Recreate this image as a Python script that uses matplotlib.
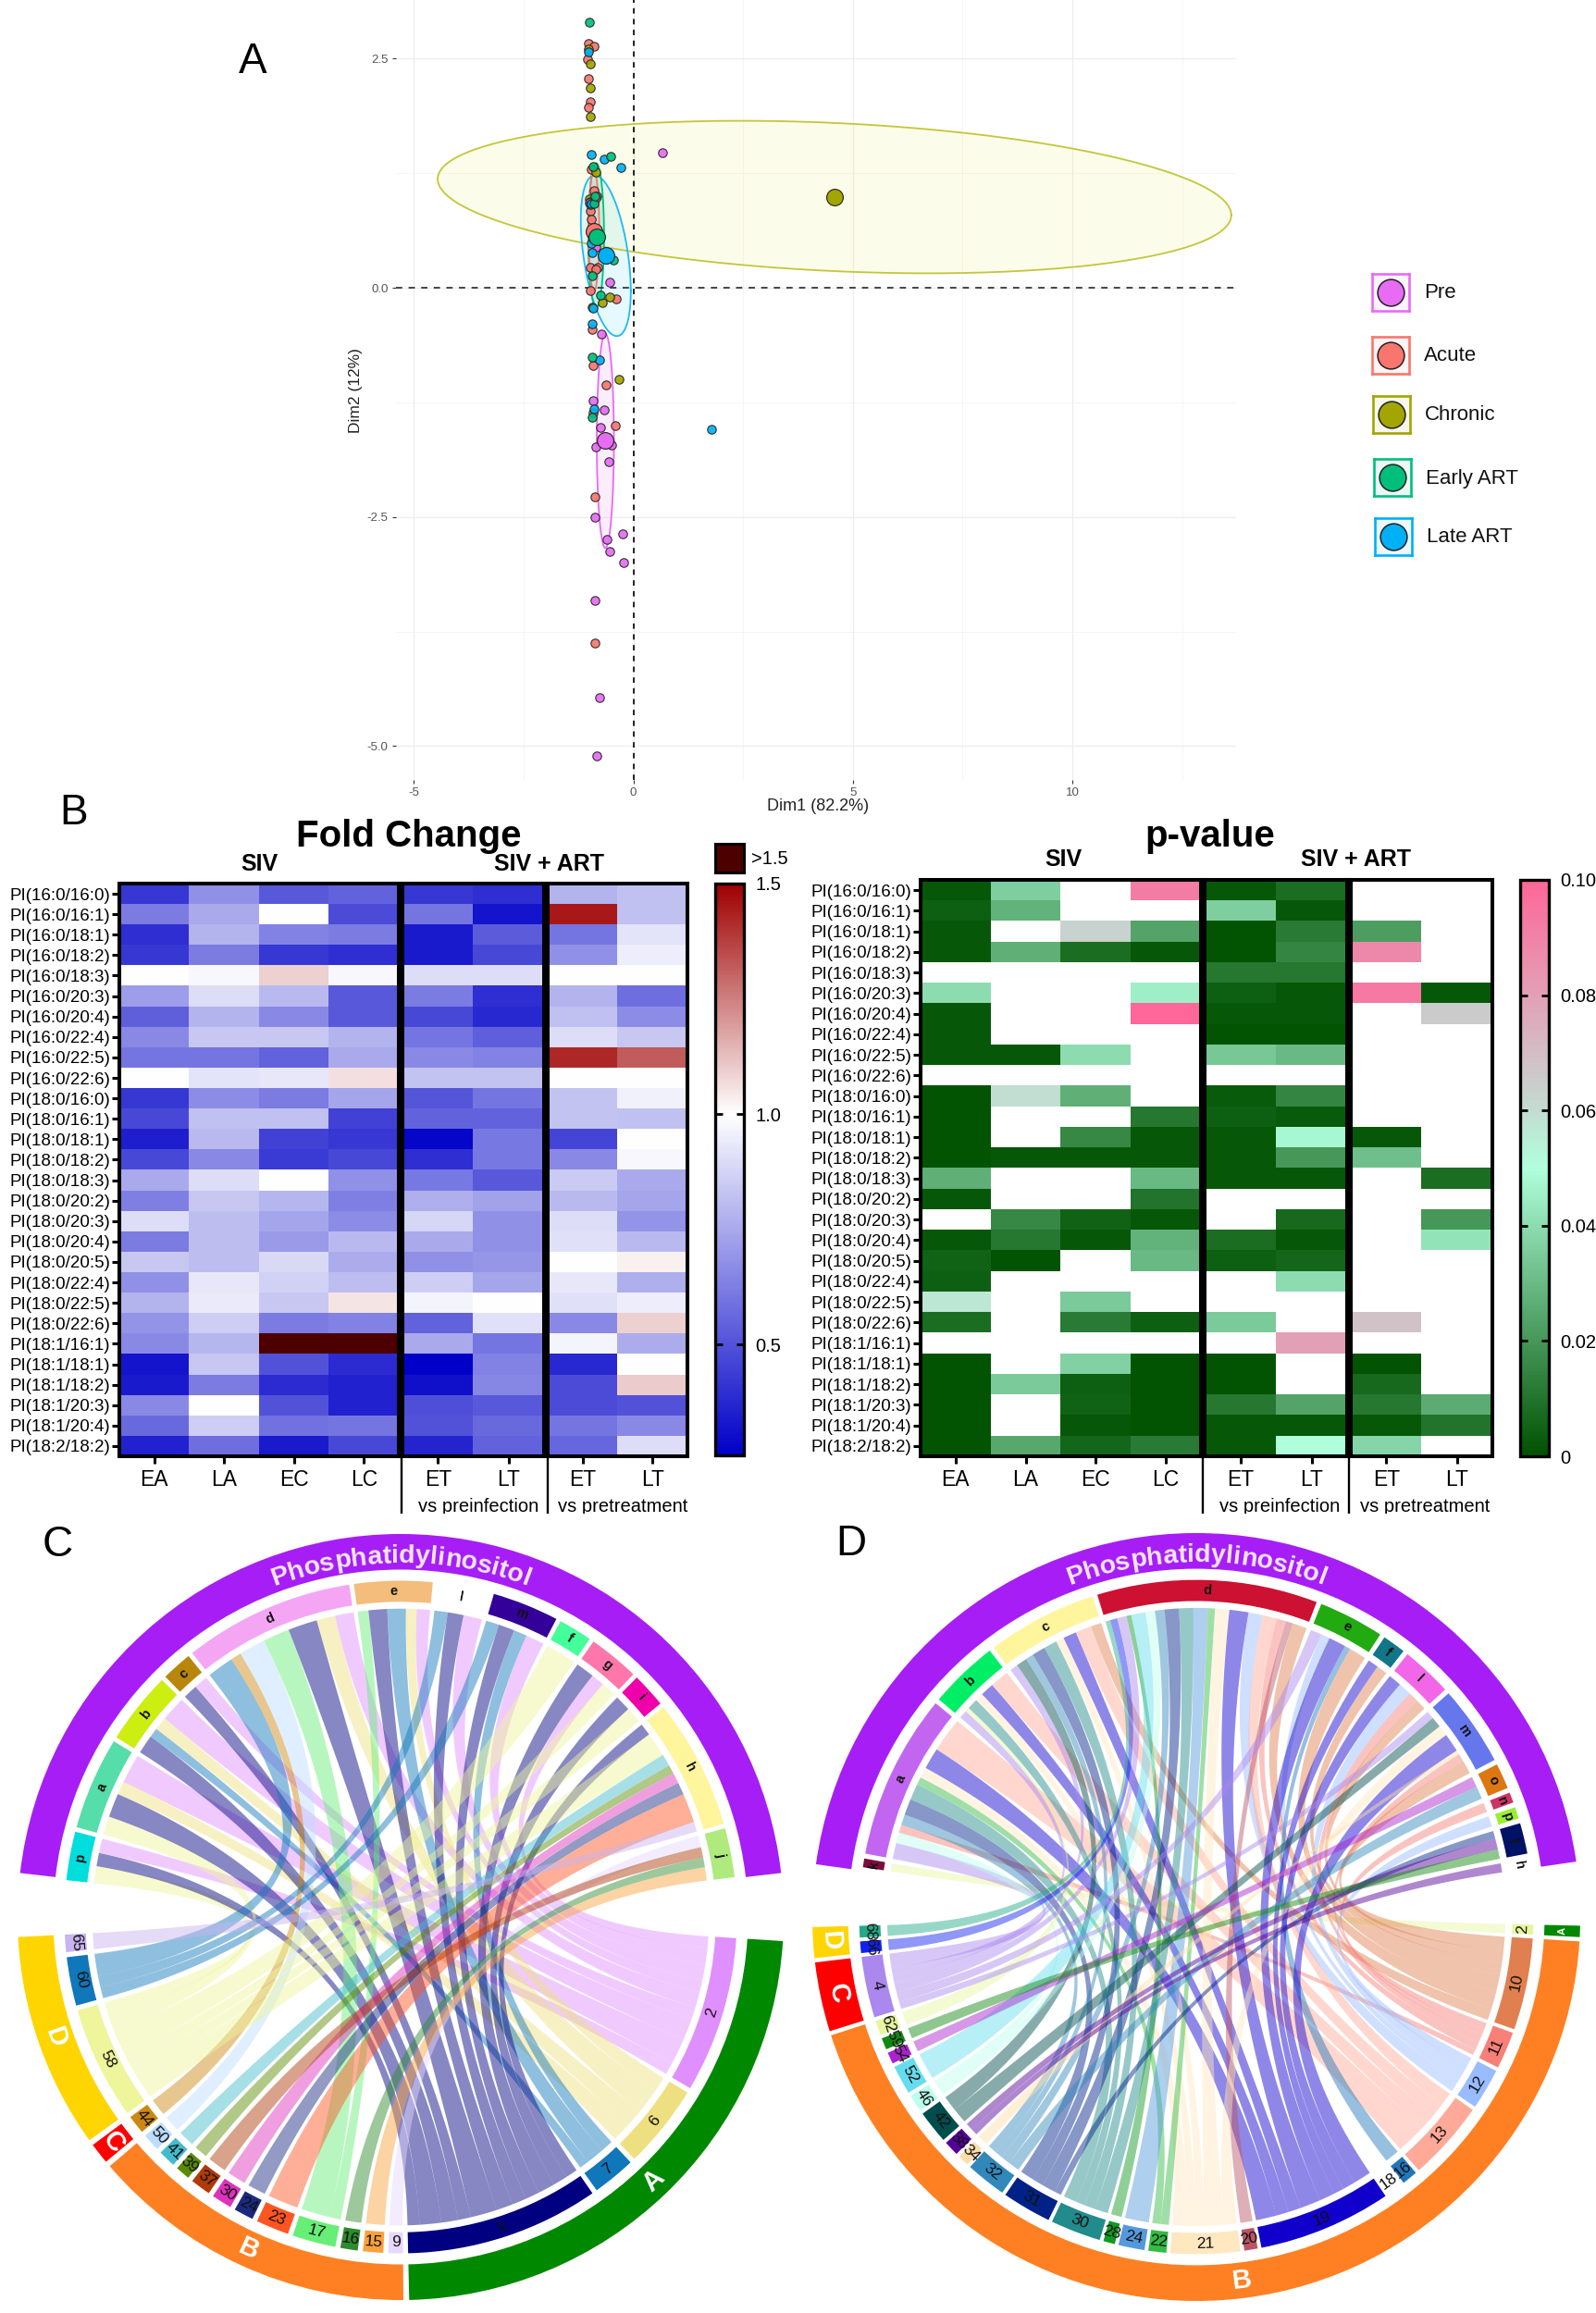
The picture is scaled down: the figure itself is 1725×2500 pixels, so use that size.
import numpy as np
import matplotlib
matplotlib.use('Agg')
import matplotlib.pyplot as plt
from matplotlib.colors import LinearSegmentedColormap
from matplotlib.lines import Line2D
from matplotlib.patches import Wedge, Polygon, Rectangle
from matplotlib.font_manager import FontProperties, findfont, get_font
from matplotlib.ft2font import LoadFlags

plt.rcParams['font.family'] = ['Liberation Sans', 'DejaVu Sans']
nan = np.nan
W, H = 1725, 2500

# ---------- Panel A data ----------
GROUPS = ['Pre', 'Acute', 'Chronic', 'Early ART', 'Late ART']
GROUP_COLORS = ['#E76BF3', '#F8766D', '#A3A500', '#00BF7D', '#00B0F6']
ELL_FILL = ['#E76BF3', '#F8766D', '#E6E84A', '#00BF7D', '#30CFFF']
ELL_EDGE = ['#E76BF3', '#F8766D', '#C4C63A', '#00BF7D', '#20B8F6']
PRE_X = [.67, -.55, -.73, -.93, -.67, -.75, -.85, -.50, -.56, -.87, -.24, -.60, -.54, -.23, -.87, -.77, -.83, -1.0, -.85]
PRE_Y = [1.47, .06, -.50, -1.23, -1.33, -1.52, -1.74, -1.72, -1.90, -2.50, -2.68, -2.75, -2.88, -3.0, -3.41, -4.47, -5.11, .93, .44]
ACUTE_X = [-1.03, -.89, -1.05, -1.02, -.98, -1.02, -.97, -.89, -.83, -.86, -.99, -.97, -.82, -.98, -.98, -.39, -.94, -.93, -.62, -.42, -.91, -.87, -.87, -.85]
ACUTE_Y = [2.67, 2.64, 2.49, 2.28, 2.03, 1.97, 1.29, 1.06, 1.0, .98, .84, .75, .22, .22, -.03, -.12, -.45, -.85, -1.06, -1.50, -1.36, -2.28, -3.88, .20]
CHRONIC_X = [-1.02, -.99, -.99, -.99, -1.0, -.98, -.95, -.71, -.55, -.32, -.85, -.90]
CHRONIC_Y = [2.61, 2.44, 2.18, 1.87, .97, .94, -.21, -.16, -.10, -1.0, 1.26, .60]
EARLY_X = [-1.01, -.52, -.91, -.95, -.94, -.94, -.75, -.46, -.90, -.88]
EARLY_Y = [2.90, 1.43, 1.32, -.76, -1.41, .13, -.08, .30, .92, 1.0]
LATE_X = [-1.03, -.97, -.67, -.28, -.98, -.94, -.91, -.94, -.78, -.89, 1.77, -.96, -.97]
LATE_Y = [2.57, 1.45, 1.40, 1.31, .91, .38, -.22, -.39, -.79, -1.32, -1.54, .48, .92]
POINTS_X = [PRE_X, ACUTE_X, CHRONIC_X, EARLY_X, LATE_X]
POINTS_Y = [PRE_Y, ACUTE_Y, CHRONIC_Y, EARLY_Y, LATE_Y]
MEAN_X = [-.645, -.90, 4.58, -.83, -.62]
MEAN_Y = [-1.67, .62, .99, .555, .35]
ELL_CX = [-.64, -.90, 4.58, -.85, -.63]
ELL_CY = [-1.67, .62, .99, .57, .35]
ELL_SX = [.195, .12, 9.04, .18, .57]
ELL_SY = [1.17, .66, .832, .79, .877]
ELL_RHO = [0, 0, -.236, 0, -.44]

# ---------- Panel B data ----------
LIPIDS = ['PI(16:0/16:0)', 'PI(16:0/16:1)', 'PI(16:0/18:1)', 'PI(16:0/18:2)', 'PI(16:0/18:3)', 'PI(16:0/20:3)', 'PI(16:0/20:4)',
          'PI(16:0/22:4)', 'PI(16:0/22:5)', 'PI(16:0/22:6)', 'PI(18:0/16:0)', 'PI(18:0/16:1)', 'PI(18:0/18:1)', 'PI(18:0/18:2)',
          'PI(18:0/18:3)', 'PI(18:0/20:2)', 'PI(18:0/20:3)', 'PI(18:0/20:4)', 'PI(18:0/20:5)', 'PI(18:0/22:4)', 'PI(18:0/22:5)',
          'PI(18:0/22:6)', 'PI(18:1/16:1)', 'PI(18:1/18:1)', 'PI(18:1/18:2)', 'PI(18:1/20:3)', 'PI(18:1/20:4)', 'PI(18:2/18:2)']
COLS_SIV = ['EA', 'LA', 'EC', 'LC']
COLS_ART = ['ET', 'LT']
FOLD = np.array([
    [.42, .68, .52, .55, .42, .40, .78, .82],
    [.62, .75, 1.0, .48, .60, .32, 1.45, .82],
    [.40, .78, .64, .62, .34, .53, .60, .92],
    [.42, .62, .42, .40, .34, .47, .68, .95],
    [1.0, .98, 1.09, .98, .90, .90, 1.0, 1.0],
    [.72, .90, .80, .52, .62, .40, .78, .58],
    [.54, .78, .66, .52, .47, .38, .82, .67],
    [.66, .84, .84, .78, .60, .54, .90, .84],
    [.60, .60, .55, .75, .66, .64, 1.42, 1.32],
    [1.0, .92, .93, 1.06, .83, .83, 1.0, 1.0],
    [.42, .67, .62, .74, .51, .60, .83, .96],
    [.47, .82, .82, .45, .55, .55, .83, .82],
    [.35, .80, .45, .42, .28, .61, .46, 1.0],
    [.47, .66, .43, .47, .40, .61, .66, .98],
    [.75, .90, 1.0, .68, .61, .52, .85, .75],
    [.63, .84, .79, .63, .77, .73, .80, .74],
    [.90, .81, .74, .67, .88, .68, .90, .69],
    [.62, .81, .71, .80, .75, .68, .91, .80],
    [.84, .81, .89, .76, .68, .70, 1.0, 1.03],
    [.68, .93, .87, .81, .86, .74, .93, .77],
    [.78, .94, .84, 1.05, .97, 1.0, .91, .95],
    [.69, .86, .62, .64, .55, .91, .66, 1.09],
    [.66, .79, 2.0, 2.0, .75, .60, .97, .76],
    [.32, .84, .50, .39, .26, .64, .38, 1.0],
    [.34, .62, .39, .36, .31, .65, .48, 1.1],
    [.66, 1.0, .50, .36, .49, .52, .48, .50],
    [.57, .86, .59, .60, .50, .57, .60, .66],
    [.36, .58, .34, .47, .37, .55, .56, .90]])
PVAL = np.array([
    [.002, .036, nan, .092, .002, .008, nan, nan],
    [.004, .028, nan, nan, .036, .002, nan, nan],
    [.002, nan, .063, .024, .001, .012, .022, nan],
    [.002, .027, .008, .002, .001, .015, .088, nan],
    [nan, nan, nan, nan, .011, .011, nan, nan],
    [.04, nan, nan, .045, .004, .002, .093, .002],
    [.002, nan, nan, .10, .002, .002, nan, .065],
    [.002, nan, nan, nan, .001, .001, nan, nan],
    [.002, .002, .04, nan, .034, .03, nan, nan],
    [nan, nan, nan, nan, nan, nan, nan, nan],
    [.001, .06, .027, nan, .003, .015, nan, nan],
    [.001, nan, nan, .011, .004, .003, nan, nan],
    [.001, nan, .016, .002, .002, .048, .002, nan],
    [.001, .002, .002, .002, .002, .02, .032, nan],
    [.027, nan, nan, .03, .002, .002, nan, .008],
    [.002, nan, nan, .01, nan, nan, nan, nan],
    [nan, .016, .005, .002, nan, .007, nan, .02],
    [.002, .011, .002, .028, .008, .002, nan, .042],
    [.005, .001, nan, .03, .004, .006, nan, nan],
    [.004, nan, nan, nan, nan, .04, nan, nan],
    [.057, nan, .035, nan, nan, nan, nan, nan],
    [.008, nan, .012, .004, .035, nan, .068, nan],
    [nan, nan, nan, nan, nan, .08, nan, nan],
    [.001, nan, .037, .001, .001, nan, .001, nan],
    [.001, .035, .004, .001, .001, nan, .007, nan],
    [.001, nan, .005, .001, .011, .024, .011, .026],
    [.001, nan, .002, .001, .002, .002, .002, .01],
    [.001, .025, .006, .012, .002, .05, .038, nan]])

# ---------- Panel C data ----------
C_TOP = ['p', 'a', 'b', 'c', 'd', 'e', 'l', 'm', 'f', 'g', 'i', 'h', 'j']
C_TOP_SIZE = [8.4, 16, 12.5, 5.3, 29.5, 13.5, 9, 11.5, 5.8, 8.8, 6, 22.5, 8.5]
C_TOP_COLOR = ['#00DDDD', '#55DDAA', '#CCEE11', '#B8860B', '#F4A6F4', '#F4BD7C', '#FFFFFF', '#330099', '#44FF99', '#FF77AA', '#EE00AA', '#FFF59D', '#AEEA7E']
C_BOT = ['2', '6', '7', 's', '9', '15', '16', '17', '23', '24', '30', '37', '39', '41', '50', '44', '58', '60', '65']
C_BOT_SIZE = [27, 14.5, 7.5, 33.5, 2.5, 3.5, 3, 7.5, 5.7, 3.4, 3.5, 3.5, 2.5, 3, 3, 3.2, 19.5, 8.4, 3]
C_BOT_COLOR = ['#E08FFF', '#EEE080', '#1177BB', '#000080', '#E6D8FF', '#F9A23C', '#2E8B2E', '#66EE77', '#FF5522', '#1A2A80', '#DD33BB',
               '#B03A08', '#5B8C00', '#44BBCC', '#BBDDFF', '#CC8811', '#EEF59A', '#1177BB', '#C9B3F0']
C_GROUPS = [('A', '#008800', 0, 3), ('B', '#FF8022', 4, 14), ('C', '#FF0000', 15, 15), ('D', '#FFD500', 16, 18)]
C_LINKS = {
    'p': [('58', 3.2), ('s', 2.5), ('2', 2.7)],
    'a': [('58', 3.5), ('s', 4.5), ('6', 2.5), ('2', 5.5)],
    'b': [('s', 3.5), ('7', 1.8), ('6', 2.5), ('2', 4.7)],
    'c': [('s', 2.7), ('2', 2.6)],
    'd': [('60', 5), ('44', 2), ('50', 5), ('17', 5), ('s', 5.5), ('6', 3.5), ('2', 3.5)],
    'e': [('17', 2), ('s', 3.5), ('7', 3.5), ('6', 2), ('2', 2.5)],
    'l': [('60', 2.5), ('s', 3), ('2', 3.5)],
    'm': [('60', 2.5), ('s', 3), ('7', 2.5), ('2', 3.5)],
    'f': [('58', 5.8)],
    'g': [('s', 3.5), ('2', 2.5), ('58', 2.8)],
    'i': [('s', 3), ('58', 3)],
    'h': [('s', 2.5), ('58', 5), ('41', 2.5), ('39', 1.8), ('30', 2.2), ('24', 2.5), ('23', 6), ('65', 2)],
    'j': [('9', 2.2), ('37', 2), ('16', 1.8), ('15', 2.5)],
}

# ---------- Panel D data ----------
D_TOP = ['k', 'a', 'b', 'c', 'd', 'e', 'f', 'l', 'm', 'o', 'n', 'p', 't', 'h']
D_TOP_SIZE = [1.5, 28.5, 12, 19, 38, 11.3, 4, 8.8, 13.8, 4.4, 1.8, 2, 5.3, 1.7]
D_TOP_COLOR = ['#7B0C3C', '#C266F2', '#00EE66', '#FFF59D', '#CC1133', '#22AA11', '#117788', '#F266E8', '#6677EE', '#DD7711', '#CC3366', '#99EE33', '#001166', '#FFFFFF']
D_BOT = ['2', '10', '11', '12', '13', '16', '18', '19', '20', '21', '22', '24', '28', '30', '31', '32', '34', '38', '42', '46', '52', '54', '59', '62', '4', '66', '68']
D_BOT_SIZE = [1.7, 15.8, 6.4, 7.1, 13.8, 2.7, 2.5, 23, 2.3, 12, 3.1, 4.5, 2, 8.7, 8.5, 7, 1.9, 2.6, 5.7, 3, 5, 2, 2, 2.5, 10.5, 2, 2]
D_BOT_COLOR = ['#E8F5A0', '#E08050', '#F88078', '#99BBFF', '#FFAA99', '#2277BB', '#FFFFFF', '#1100CC', '#BB5566', '#FFE8C0', '#33BB44', '#5599DD', '#119922',
               '#228B8B', '#002288', '#3388BB', '#FFDDAA', '#550099', '#004D4D', '#BBFFEE', '#66DDEE', '#AA22CC', '#118811', '#E8F5A0', '#AA88EE', '#1122EE', '#22AA88']
D_GROUPS = [('A', '#008800', 0, 0), ('B', '#FF8022', 1, 23), ('C', '#FF0000', 24, 24), ('D', '#FFD500', 25, 26)]
D_LINKS = {
    'k': [('2', 1)],
    'a': [('4', 3), ('46', 2), ('11', 1.5), ('32', 2), ('31', 3), ('30', 3), ('22', 1.5), ('21', 2), ('19', 4), ('13', 6.5)],
    'b': [('4', 1.5), ('62', .8), ('30', 2), ('21', 1.5), ('19', 2.5), ('13', 3.5)],
    'c': [('4', 1.5), ('42', 2), ('32', 1.5), ('31', 2.5), ('30', 2.5), ('21', 1.5), ('19', 2.5), ('13', 3), ('10', 2)],
    'd': [('68', 1), ('66', 1.5), ('4', 2), ('28', 1), ('52', 3), ('46', 2), ('32', 2), ('31', 3), ('30', 3), ('24', 3), ('22', 1.5),
          ('21', 3), ('19', 4), ('12', 3), ('13', 3), ('11', 2), ('20', 1.5), ('10', 3)],
    'e': [('4', 2), ('12', 1.5), ('19', 3), ('16', 1), ('10', 3)],
    'f': [('19', 2), ('10', 2)],
    'l': [('19', 2.5), ('12', 2.5), ('11', 2), ('10', 2)],
    'm': [('4', 1.5), ('42', 2), ('21', 2), ('19', 3.5), ('34', .8), ('11', 1.5), ('10', 2.5)],
    'o': [('54', 2), ('32', 2.4)],
    'n': [('11', 1.8)],
    'p': [('12', 2)],
    't': [('31', 1.5), ('38', 2), ('59', 1.8)],
    'h': [('38', 1.7)],
}

fig = plt.figure(figsize=(W / 100, H / 100), dpi=100, facecolor='white')


def axpx(x0, y0, x1, y1, **kw):
    return fig.add_axes([x0 / W, 1 - y1 / H, (x1 - x0) / W, (y1 - y0) / H], **kw)


def tpx(x, y, s, **kw):
    kw.setdefault('ha', 'center')
    kw.setdefault('va', 'center')
    return fig.text(x / W, 1 - y / H, s, **kw)


def lpx(xs, ys, **kw):
    fig.add_artist(Line2D([x / W for x in xs], [1 - y / H for y in ys], transform=fig.transFigure, **kw))


for s, x, y in [('A', 273, 67), ('B', 80, 879), ('C', 62, 1670), ('D', 920, 1669)]:
    tpx(x, y, s, fontsize=33, color='black')

# ---------- Panel A ----------
ax = axpx(428, 0, 1336, 843)
ax.set_xlim(-5.41, 13.73)
ax.set_ylim(-5.37, 3.14)
for sp in ax.spines.values():
    sp.set_visible(False)
ax.set_xticks([-5, 0, 5, 10])
ax.set_yticks([-5, -2.5, 0, 2.5])
ax.set_yticklabels(['-5.0', '-2.5', '0.0', '2.5'])
ax.set_xticklabels(['-5', '0', '5', '10'])
ax.set_xticks([-2.5, 2.5, 7.5, 12.5], minor=True)
ax.set_yticks([-3.75, -1.25, 1.25], minor=True)
ax.grid(True, which='major', color='#EDEDED', lw=.9)
ax.grid(True, which='minor', color='#F4F4F4', lw=.6)
ax.tick_params(which='minor', length=0)
ax.tick_params(which='major', labelsize=9.5, labelcolor='#555555', color='#333333', length=3, width=.8, pad=3)
ax.set_axisbelow(True)
t = np.linspace(0, 2 * np.pi, 240)
for i in [2, 4, 3, 1, 0]:
    ex = ELL_CX[i] + ELL_SX[i] * np.cos(t)
    ey = ELL_CY[i] + ELL_SY[i] * (ELL_RHO[i] * np.cos(t) - np.sqrt(1 - ELL_RHO[i] ** 2) * np.sin(t))
    ax.fill(ex, ey, facecolor=ELL_FILL[i], alpha=.12, lw=0, zorder=1)
    ax.plot(ex, ey, color=ELL_EDGE[i], lw=1.3, zorder=2)
ax.axhline(0, color='#444444', lw=1.4, ls=(0, (3.5, 3.5)), zorder=3)
ax.axvline(0, color='#222222', lw=1.4, ls=(0, (3, 3)), zorder=3)
for i in [1, 2, 0, 4, 3]:
    ax.scatter(POINTS_X[i], POINTS_Y[i], s=46, c=GROUP_COLORS[i], edgecolors='#222222', linewidths=.8, zorder=4, alpha=.92)
for i in range(5):
    ax.scatter([MEAN_X[i]], [MEAN_Y[i]], s=165, c=GROUP_COLORS[i], edgecolors='#222222', linewidths=.8, zorder=5)
tpx(884, 872, 'Dim1 (82.2%)', fontsize=13, color='#222222')
tpx(385, 422, 'Dim2 (12%)', fontsize=12.5, rotation=90, color='#222222')

# legend
LEG_CX = [1503, 1503, 1504, 1505, 1506]
LEG_CY = [316, 384, 448, 516, 580]
for i, g in enumerate(GROUPS):
    cx, cy = LEG_CX[i], LEG_CY[i]
    lx = axpx(cx - 20, cy - 20, cx + 20, cy + 20)
    lx.set_xlim(-1, 1)
    lx.set_ylim(-1, 1)
    lx.set_xticks([])
    lx.set_yticks([])
    lx.set_facecolor(matplotlib.colors.to_rgba(GROUP_COLORS[i], .08))
    for sp in lx.spines.values():
        sp.set_color(GROUP_COLORS[i])
        sp.set_linewidth(1.9)
    lx.scatter([0], [0], s=430, c=GROUP_COLORS[i], edgecolors='#222222', linewidths=1.1)
    tpx(cx + 36, cy + 1, g, fontsize=16, ha='left', color='#111111')

# ---------- Panel B ----------
fold_cmap = LinearSegmentedColormap.from_list('fold', [(0, '#0000C8'), (.597, '#FFFFFF'), (1, '#A00000')])
fold_cmap.set_over('#4D0000')
pval_cmap = LinearSegmentedColormap.from_list('pval', [(0, '#005200'), (.5, '#B0FFDD'), (.65, '#CCCCCC'), (1, '#FF6699')])
pval_cmap.set_bad('white')


def heat(M, cmap, vmin, vmax, x0, d1, d2, x1, y0, y1, title, title_x, sub_x, sub_y, line_x, vs_x, vs_y):
    slices = [(0, 4, x0, d1 - 2, COLS_SIV), (4, 6, d1 + 2, d2 - 2, COLS_ART), (6, 8, d2 + 2, x1, COLS_ART)]
    im = None
    for k, (a, b, xa, xb, names) in enumerate(slices):
        h = axpx(xa, y0, xb, y1)
        im = h.imshow(M[:, a:b], cmap=cmap, vmin=vmin, vmax=vmax, aspect='auto', interpolation='nearest')
        h.set_xticks(range(b - a))
        h.set_xticklabels(names, fontsize=16.5)
        h.tick_params(axis='x', length=6, width=2.2, pad=4)
        if k == 0:
            h.set_yticks(range(len(LIPIDS)))
            h.set_yticklabels(LIPIDS, fontsize=13.5)
            h.tick_params(axis='y', length=6, width=2.2, pad=1)
        else:
            h.set_yticks([])
        for sp in h.spines.values():
            sp.set_linewidth(2.9)
    tpx(title_x, 904, title, fontsize=29, fontweight='bold')
    tpx(sub_x[0], sub_y, 'SIV', fontsize=18, fontweight='bold')
    tpx(sub_x[1], sub_y, 'SIV + ART', fontsize=18, fontweight='bold')
    for lx_ in line_x:
        lpx([lx_, lx_], [y1, 1635], color='black', lw=1.7)
    tpx(vs_x[0], vs_y, 'vs preinfection', fontsize=14.5)
    tpx(vs_x[1], vs_y, 'vs pretreatment', fontsize=14.5)
    return im


im1 = heat(FOLD, fold_cmap, .26, 1.5, 129, 433, 590, 743, 955, 1574, 'Fold Change', 442, (280, 594), 934, (434, 592), (517, 673), 1629)
im2 = heat(PVAL, pval_cmap, 0, .10, 995, 1300, 1458, 1613, 951, 1574, 'p-value', 1308, (1149, 1465), 929, (1300, 1458), (1383, 1540), 1629)

cax1 = axpx(773, 955, 804, 1573)
cb1 = fig.colorbar(im1, cax=cax1, extend='neither')
cb1.set_ticks([.5, 1.0, 1.5])
cb1.set_ticklabels(['0.5', '1.0', '1.5'])
cax2 = axpx(1643, 951, 1674, 1574)
cb2 = fig.colorbar(im2, cax=cax2)
cb2.set_ticks([0, .02, .04, .06, .08, .10])
cb2.set_ticklabels(['0', '0.02', '0.04', '0.06', '0.08', '0.10'])
for cb in (cb1, cb2):
    cb.outline.set_linewidth(2.4)
    cb.ax.tick_params(direction='in', left=True, right=True, length=6, width=2, labelsize=14.5, pad=9)
ob = axpx(773, 912, 804, 943)
ob.set_facecolor('#4D0000')
ob.set_xticks([])
ob.set_yticks([])
for sp in ob.spines.values():
    sp.set_linewidth(2.2)
tpx(812, 928, '>1.5', fontsize=14.5, ha='left')
fig.add_artist(Rectangle((420 / W, 1 - 1648 / H), 1150 / W, 12 / H, transform=fig.transFigure, fc='white', ec='none', zorder=6))


# ---------- Panels C and D ----------
def pol(r, a):
    a = np.deg2rad(a)
    return r * np.cos(a), r * np.sin(a)


def layout(sizes, start, end):
    gap = (start - end - sum(sizes)) / (len(sizes) - 1)
    out, a = [], start
    for s in sizes:
        out.append((a, a - s))
        a -= s + gap
    return out


def seg_label(c, r, a, s, top, **kw):
    x, y = pol(r, a)
    rot = a - 90 if top else a + 90
    c.text(x, y, s, ha='center', va='center', rotation=rot, rotation_mode='anchor', **kw)


def arc_pts(r, a0, a1):
    aa = np.linspace(a0, a1, max(int(abs(a1 - a0) * 2) + 2, 3))
    return np.column_stack(pol(r, aa))


def bez(p0, p1, n=50):
    tt = np.linspace(0, 1, n)[:, None]
    return (1 - tt) ** 2 * p0 + tt ** 2 * p1


def chord(cx, cy, R, top, top_sz, top_col, top_span, bot, bot_sz, bot_col, bot_span, groups, links, ring_span):
    c = axpx(cx - R * 1.03, cy - R * 1.03, cx + R * 1.03, cy + R * 1.03)
    c.set_xlim(-1.03, 1.03)
    c.set_ylim(-1.03, 1.03)
    c.axis('off')
    c.patch.set_alpha(0)
    RA, RB, RC, RD, RE = 1.0, .907, .878, .823, .805
    tpos = dict(zip(top, layout(top_sz, *top_span)))
    bpos = dict(zip(bot, layout(bot_sz, *bot_span)))
    c.add_patch(Wedge((0, 0), RA, ring_span[1], ring_span[0], width=RA - RB, fc='#A61EF5', ec='none'))
    for i, s in enumerate(top):
        a0, a1 = tpos[s]
        c.add_patch(Wedge((0, 0), RC, a1, a0, width=RC - RD, fc=top_col[i], ec='none'))
        seg_label(c, (RC + RD) / 2, (a0 + a1) / 2, s, True, fontsize=10.5, fontweight='bold', color='#111111')
    for i, s in enumerate(bot):
        a0, a1 = bpos[s]
        c.add_patch(Wedge((0, 0), RC, a1, a0, width=RC - RD, fc=bot_col[i], ec='none'))
        seg_label(c, (RC + RD) / 2, (a0 + a1) / 2, s, False, fontsize=12.5, color='#111111')
    for name, col, i0, i1 in groups:
        a0, a1 = bpos[bot[i0]][0], bpos[bot[i1]][1]
        c.add_patch(Wedge((0, 0), RA, a1, a0, width=RA - RB, fc=col, ec='none'))
        fs = 21 if abs(a0 - a1) > 3 else 8
        seg_label(c, (RA + RB) / 2, (a0 + a1) / 2, name, False, fontsize=fs, fontweight='bold', color='white')
    # ribbons
    totals = {}
    for s in top:
        for b, w in links[s]:
            totals[b] = totals.get(b, 0) + w
    used = {b: 0. for b in totals}
    for s in top:
        a0, a1 = tpos[s]
        tot = sum(w for _, w in links[s])
        a = a0
        for b, w in links[s]:
            da = (a0 - a1) * w / tot
            b0, b1 = bpos[b]
            frac0 = used[b] / totals[b]
            used[b] += w
            frac1 = used[b] / totals[b]
            q0 = b1 + (b0 - b1) * frac0
            q1 = b1 + (b0 - b1) * frac1
            A = arc_pts(RE, a, a - da)
            B = arc_pts(RE, q1, q0)
            pts = np.vstack([A, bez(A[-1], B[0]), B, bez(B[-1], A[0])])
            col = bot_col[bot.index(b)]
            c.add_patch(Polygon(pts, closed=True, fc=col, ec='none', alpha=.47))
            a -= da
    # curved title
    word = 'Phosphatidylinositol'
    fsz = 20.5
    px_size = fsz * 100 / 72
    font = get_font(findfont(FontProperties(family='Liberation Sans', weight='bold')))
    font.set_size(px_size, 72)
    adv = [font.load_char(ord(ch), flags=LoadFlags.NO_HINTING).linearHoriAdvance / 65536 for ch in word]
    total = sum(adv)
    rpx = R * .925
    pos = 0.
    for ch, w in zip(word, adv):
        ang = 90 - np.rad2deg((pos + w / 2 - total / 2) / rpx)
        x, y = pol(.925, ang)
        c.text(x, y, ch, ha='center', va='baseline', rotation=ang - 90, rotation_mode='anchor', fontsize=fsz, fontweight='bold', color='#F3E6FF')
        pos += w


chord(433, 2072, 414, C_TOP, C_TOP_SIZE, C_TOP_COLOR, (173.7, 6.8), C_BOT, C_BOT_SIZE, C_BOT_COLOR, (-3.6, -177), C_GROUPS, C_LINKS, (173.4, 6.6))
chord(1293, 2072, 415, D_TOP, D_TOP_SIZE, D_TOP_COLOR, (171.5, 8.3), D_BOT, D_BOT_SIZE, D_BOT_COLOR, (-1.3, -178.5), D_GROUPS, D_LINKS, (172.1, 8.3))

fig.savefig('out.png', dpi=100, facecolor='white')
